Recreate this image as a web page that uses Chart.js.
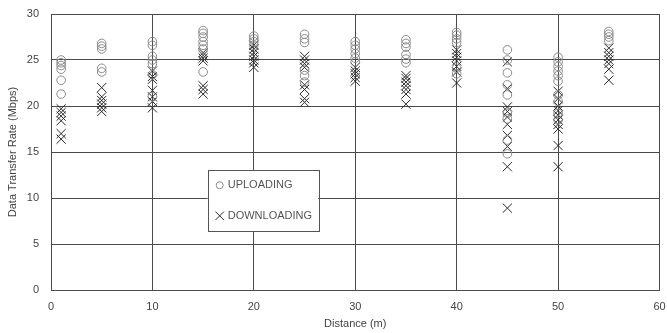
<!DOCTYPE html>
<html>
<head>
<meta charset="utf-8">
<script src="https://cdn.jsdelivr.net/npm/chart.js@4/dist/chart.umd.min.js"></script>
<style>
html,body{margin:0;padding:0;background:#fff;}
#wrap{width:667px;height:333px;}
</style>
</head>
<body>
<div id="wrap"><canvas id="c" width="667" height="333"></canvas></div>
<script>
// ---- data ----
const distances = [1, 5, 10, 15, 20, 25, 30, 35, 40, 45, 50, 55];
const uploading = [
  [25.0, 24.7, 24.4, 24.0, 22.8, 21.3],
  [26.8, 26.5, 26.2, 24.1, 23.7],
  [27.0, 26.6, 25.4, 25.0, 24.6, 23.4, 21.0],
  [28.2, 27.9, 27.5, 27.0, 26.6, 26.2, 23.7],
  [27.6, 27.3, 27.0, 26.6],
  [27.8, 27.3, 26.9, 23.9, 23.3, 22.6],
  [27.0, 26.6, 26.2, 25.7, 25.2, 24.8],
  [27.2, 26.8, 26.4, 25.6, 25.1, 24.7],
  [28.0, 27.7, 27.3, 26.9, 24.1, 23.5],
  [26.1, 25.0, 23.6, 22.3, 21.2, 19.2, 18.6, 16.3, 14.8],
  [25.3, 24.8, 24.3, 23.8, 23.3, 22.7, 21.2, 20.5, 19.2, 18.5],
  [28.1, 27.8, 27.5, 27.1]
];
const downloading = [
  [19.7, 19.3, 18.9, 18.4, 17.0, 16.4],
  [22.0, 21.0, 20.6, 20.2, 19.8, 19.4],
  [23.8, 23.2, 22.9, 21.7, 21.0, 20.5, 19.8],
  [25.8, 25.5, 25.2, 24.9, 22.2, 21.8, 21.3],
  [26.6, 26.2, 25.8, 25.4, 25.0, 24.7, 24.2],
  [25.4, 25.0, 24.6, 24.2, 22.3, 21.8, 20.8, 20.4],
  [24.2, 23.8, 23.5, 23.1, 22.7],
  [23.3, 23.0, 22.6, 22.2, 21.8, 21.3, 20.2],
  [26.1, 25.7, 25.3, 24.9, 24.3, 23.7, 22.5],
  [24.8, 21.9, 19.9, 19.4, 18.8, 18.0, 16.8, 15.6, 13.4, 8.9],
  [21.6, 20.8, 20.0, 19.5, 19.0, 18.5, 18.0, 17.5, 15.7, 13.4],
  [26.3, 25.8, 25.4, 25.0, 24.6, 24.0, 22.8]
];
const seriesNames = ['UPLOADING', 'DOWNLOADING'];
const xTitle = 'Distance (m)';
const yTitle = 'Data Transfer Rate (Mbps)';

function toPoints(groups) {
  const pts = [];
  groups.forEach((vals, i) => vals.forEach(v => pts.push({x: distances[i], y: v})));
  return pts;
}

const FONT = "'Liberation Sans', Arial, sans-serif";
const GRID = '#4a4a4a';
const TXT = '#444';

const legendPlugin = {
  id: 'boxLegend',
  afterDatasetsDraw(chart) {
    const ctx = chart.ctx;
    const xs = chart.scales.x, ys = chart.scales.y;
    const x0 = xs.getPixelForValue(15.45), x1 = xs.getPixelForValue(26.35);
    const y0 = ys.getPixelForValue(13.05), y1 = ys.getPixelForValue(6.4);
    ctx.save();
    ctx.fillStyle = '#fff';
    ctx.fillRect(x0, y0, x1 - x0, y1 - y0);
    ctx.strokeStyle = '#555';
    ctx.lineWidth = 1;
    ctx.strokeRect(Math.round(x0) + 0.5, Math.round(y0) + 0.5, Math.round(x1 - x0), Math.round(y1 - y0));
    ctx.font = '11px ' + FONT;
    ctx.textBaseline = 'middle';
    ctx.textAlign = 'left';
    const rows = [y0 + (y1 - y0) * 0.25, y0 + (y1 - y0) * 0.75];
    chart.data.datasets.forEach((ds, i) => {
      const mx = x0 + 12, my = rows[i];
      ctx.strokeStyle = ds.borderColor;
      ctx.fillStyle = 'rgba(0,0,0,0)';
      ctx.lineWidth = 1;
      Chart.helpers.drawPoint(ctx, {pointStyle: ds.pointStyle, radius: ds.pointStyle === 'circle' ? 3.5 : 6, borderWidth: 1}, mx, my);
      ctx.fillStyle = '#555';
      ctx.fillText(ds.label, x0 + 20, my);
    });
    ctx.restore();
  }
};

new Chart(document.getElementById('c'), {
  type: 'scatter',
  data: {
    datasets: [
      {
        label: seriesNames[0],
        data: toPoints(uploading),
        pointStyle: 'circle',
        pointRadius: 4.3,
        borderColor: '#8a8a8a',
        backgroundColor: 'rgba(0,0,0,0)',
        borderWidth: 1
      },
      {
        label: seriesNames[1],
        data: toPoints(downloading),
        pointStyle: 'crossRot',
        pointRadius: 6.5,
        borderColor: '#2a2a2a',
        backgroundColor: 'rgba(0,0,0,0)',
        borderWidth: 1
      }
    ]
  },
  options: {
    responsive: false,
    animation: false,
    events: [],
    layout: {padding: {top: 14, right: 6, left: 0, bottom: 0}},
    plugins: {legend: {display: false}, tooltip: {enabled: false}},
    scales: {
      x: {
        type: 'linear', min: 0, max: 60,
        afterFit(s) { s.height = 43; s.paddingLeft = 0; s.paddingRight = 0; },
        ticks: {stepSize: 10, color: TXT, font: {family: FONT, size: 11}, padding: 10, maxRotation: 0},
        grid: {color: GRID, lineWidth: 1, drawTicks: false},
        border: {color: GRID, width: 1},
        title: {display: true, text: xTitle, color: TXT, font: {family: FONT, size: 11}, padding: {top: 0, bottom: 2}}
      },
      y: {
        type: 'linear', min: 0, max: 30,
        afterFit(s) { s.width = 51; s.paddingTop = 0; s.paddingBottom = 0; },
        ticks: {stepSize: 5, color: TXT, font: {family: FONT, size: 11}, padding: 12},
        grid: {color: GRID, lineWidth: 1, drawTicks: false},
        border: {color: GRID, width: 1},
        title: {display: true, text: yTitle, color: TXT, font: {family: FONT, size: 11}, padding: {top: 6, bottom: 0}}
      }
    }
  },
  plugins: [legendPlugin]
});
</script>
</body>
</html>
